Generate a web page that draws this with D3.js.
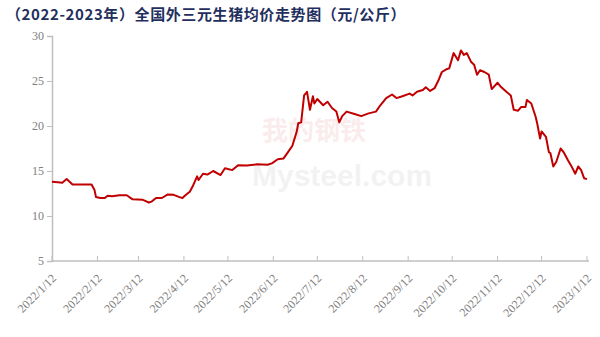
<!DOCTYPE html>
<html><head><meta charset="utf-8">
<script src="https://cdn.jsdelivr.net/npm/d3@7"></script>
<style>body{margin:0;background:#fff}svg{display:block}</style>
</head><body><svg id="c" width="600" height="337"></svg>
<script>
const title = "（2022-2023年）全国外三元生猪均价走势图（元/公斤）";
const dates = ["2022-01-12","2022-01-16","2022-01-19","2022-01-22","2022-01-24","2022-01-26","2022-02-03","2022-02-08","2022-02-10","2022-02-11","2022-02-14","2022-02-17","2022-02-19","2022-02-22","2022-02-27","2022-03-04","2022-03-08","2022-03-15","2022-03-17","2022-03-19","2022-03-21","2022-03-24","2022-03-28","2022-04-01","2022-04-05","2022-04-09","2022-04-11","2022-04-13","2022-04-16","2022-04-18","2022-04-21","2022-04-22","2022-04-25","2022-04-28","2022-05-02","2022-05-07","2022-05-10","2022-05-15","2022-05-19","2022-05-25","2022-06-01","2022-06-08","2022-06-11","2022-06-15","2022-06-19","2022-06-22","2022-06-25","2022-06-28","2022-06-29","2022-07-01","2022-07-03","2022-07-05","2022-07-07","2022-07-09","2022-07-10","2022-07-12","2022-07-16","2022-07-19","2022-07-22","2022-07-25","2022-07-27","2022-07-29","2022-08-01","2022-08-07","2022-08-11","2022-08-16","2022-08-21","2022-08-24","2022-08-28","2022-09-01","2022-09-04","2022-09-08","2022-09-13","2022-09-15","2022-09-18","2022-09-22","2022-09-24","2022-09-27","2022-09-30","2022-10-03","2022-10-05","2022-10-08","2022-10-10","2022-10-13","2022-10-16","2022-10-18","2022-10-20","2022-10-22","2022-10-25","2022-10-27","2022-10-29","2022-10-31","2022-11-03","2022-11-06","2022-11-08","2022-11-12","2022-11-14","2022-11-18","2022-11-21","2022-11-23","2022-11-26","2022-11-28","2022-12-01","2022-12-02","2022-12-05","2022-12-08","2022-12-09","2022-12-11","2022-12-12","2022-12-15","2022-12-17","2022-12-18","2022-12-20","2022-12-22","2022-12-25","2022-12-27","2022-12-30","2023-01-01","2023-01-04","2023-01-06","2023-01-08","2023-01-10","2023-01-12"];
const prices = [13.8,13.75,13.7,14.1,13.8,13.5,13.5,13.5,12.9,12.1,12.0,12.0,12.25,12.2,12.3,12.3,11.85,11.8,11.65,11.5,11.6,12.0,12.0,12.4,12.35,12.1,12.0,12.3,12.7,13.3,14.4,14.0,14.7,14.6,15.0,14.55,15.3,15.1,15.65,15.6,15.75,15.7,15.85,16.3,16.4,17.1,17.8,19.4,20.3,20.4,23.4,23.8,21.8,23.3,22.5,23.0,22.3,22.7,22.0,21.6,20.4,21.1,21.6,21.3,21.1,21.4,21.6,22.3,23.1,23.5,23.1,23.3,23.6,23.4,23.8,24.0,24.3,23.9,24.2,25.2,26.0,26.3,26.4,28.1,27.3,28.4,27.9,28.1,27.1,26.8,25.7,26.2,26.0,25.7,24.1,24.8,24.4,23.8,23.4,21.8,21.7,22.1,22.1,22.9,22.5,21.0,20.3,18.6,19.4,18.8,17.1,17.0,15.5,16.0,17.5,17.1,16.2,15.65,14.7,15.5,15.1,14.2,14.1];
const xTickLabels = ["2022/1/12","2022/2/12","2022/3/12","2022/4/12","2022/5/12","2022/6/12","2022/7/12","2022/8/12","2022/9/12","2022/10/12","2022/11/12","2022/12/12","2023/1/12"];
const yTicks = [5,10,15,20,25,30];

const svg = d3.select("#c");
const parse = d3.timeParse("%Y-%m-%d");
const parseTick = d3.timeParse("%Y/%m/%d");
const data = dates.map((d,i)=>({d:parse(d), v:prices[i]}));
const x = d3.scaleTime().domain([parse("2022-01-12"), parse("2023-01-12")]).range([52, 587]);
const y = d3.scaleLinear().domain([5,30]).range([261, 36]);

// watermark (faint)
const wm = svg.append("g").attr("opacity",0.07);
wm.append("text").attr("x",262).attr("y",140).attr("font-family","Noto Sans CJK SC").attr("font-weight","bold").attr("font-size",26).attr("fill","#c00000").text("我的钢铁");
wm.append("text").attr("x",252).attr("y",186).attr("font-family","Liberation Sans").attr("font-weight","bold").attr("font-size",30).attr("fill","#556").text("Mysteel.com");

// title
svg.append("text").attr("x",6).attr("y",20).attr("font-family","Noto Sans CJK SC").attr("font-weight","bold")
  .attr("font-size",15).attr("letter-spacing",0.6).attr("fill","#1f2f5e").text(title);

// y axis
const yAxis = svg.append("g").attr("transform","translate(52,0)")
  .call(d3.axisLeft(y).tickValues(yTicks).tickSize(5).tickPadding(3));
yAxis.select(".domain").attr("stroke","#bfbfbf").attr("stroke-width",1.5);
yAxis.selectAll(".tick line").attr("stroke","#bfbfbf");
yAxis.selectAll("text").attr("font-family","Liberation Serif").attr("font-size",12).attr("fill","#808080");

// x axis
const xg = svg.append("g").attr("transform","translate(0,261)");
xg.append("line").attr("x1",52).attr("x2",589).attr("stroke","#bfbfbf").attr("stroke-width",1.5);
xTickLabels.forEach(t=>{
  const px = x(parseTick(t));
  xg.append("line").attr("x1",px).attr("x2",px).attr("y1",0).attr("y2",-5).attr("stroke","#bfbfbf");
  xg.append("text").attr("transform",`translate(${px+5},${18}) rotate(-45)`)
    .attr("text-anchor","end").attr("font-family","Liberation Serif").attr("font-size",12)
    .attr("fill","#808080").text(t);
});

// line
svg.append("path").datum(data).attr("fill","none").attr("stroke","#c00000").attr("stroke-width",2)
  .attr("stroke-linejoin","round")
  .attr("d", d3.line().x(d=>x(d.d)).y(d=>y(d.v)));
</script></body></html>
